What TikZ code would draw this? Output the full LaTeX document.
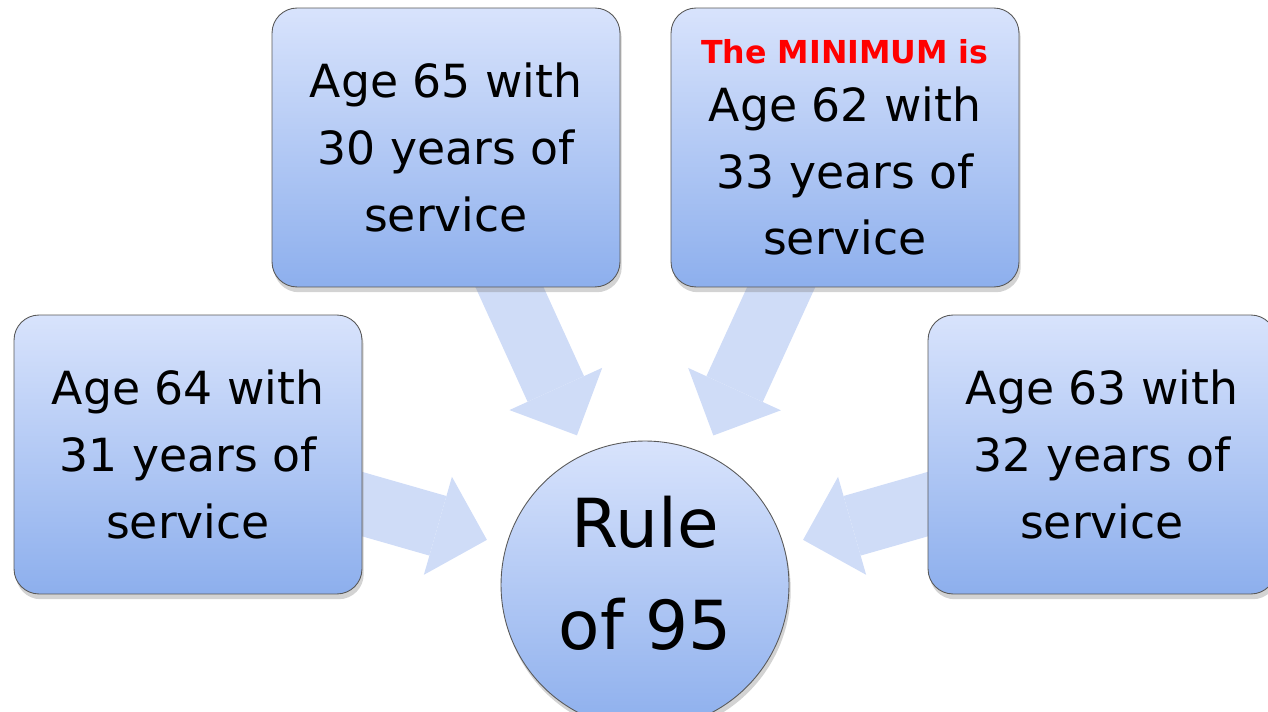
\documentclass[tikz,border=0pt]{standalone}
\usepackage{fontspec}
\setmainfont{DejaVu Sans}
\usetikzlibrary{arrows.meta,shadows,backgrounds}

\definecolor{boxtop}{RGB}{216,227,252}
\definecolor{boxbot}{RGB}{141,175,237}
\definecolor{arrowfill}{RGB}{207,220,247}
\definecolor{arrowshade}{RGB}{200,205,215}

\begin{document}
\begin{tikzpicture}[x=0.02cm,y=-0.02cm,
    agebox/.style={rectangle, rounded corners=0.5cm, draw=black!65, line width=0.5pt,
        top color=boxtop, bottom color=boxbot,
        minimum width=6.96cm, minimum height=5.58cm,
        align=center, font=\fontsize{26}{38}\selectfont,
        drop shadow={shadow xshift=1pt, shadow yshift=-3pt, opacity=0.35}},
    rulecircle/.style={circle, draw=black!65, line width=0.5pt,
        top color=boxtop, bottom color=boxbot, minimum size=5.76cm,
        align=center, font=\fontsize{38.5}{58}\selectfont, text depth=0.5cm,
        drop shadow={shadow xshift=1pt, shadow yshift=-3pt, opacity=0.35}},
    blockarrow/.style={color=arrowfill, line width=1.24cm,
        -{Triangle[length=1.02cm,width=2.04cm,line width=0pt]},
        shorten >=0.4cm, shorten <=-0.6cm,
        preaction={color=arrowshade, transform canvas={shift={(1pt,-2pt)}}}}]
\useasboundingbox (0,0) rectangle (1268,712);

\node [agebox] (age65) at (446,147.5) {Age 65 with\\30 years of\\service};
\node [agebox] (age62) at (845,147.5)
    {{\color{red}\fontsize{18}{26}\selectfont\bfseries The MINIMUM is}\\[-5pt]Age 62 with\\33 years of\\service};
\node [agebox] (age64) at (188,454.5) {Age 64 with\\31 years of\\service};
\node [agebox] (age63) at (1102,454.5) {Age 63 with\\32 years of\\service};

\node [rulecircle] (rule) at (645,585) {Rule\\of 95};

\begin{scope}[on background layer]
    \path [blockarrow] (age65) edge (rule);
    \path [blockarrow] (age62) edge (rule);
    \path [blockarrow] (age64) edge (rule);
    \path [blockarrow] (age63) edge (rule);
\end{scope}

\end{tikzpicture}
\end{document}
